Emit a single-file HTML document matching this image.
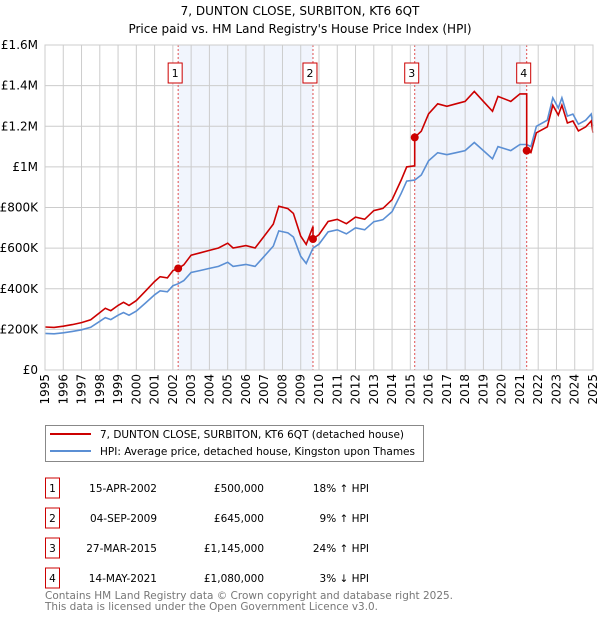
<!DOCTYPE html>
<html><head><meta charset="utf-8"><style>
body{margin:0;background:#fff;width:600px;height:620px;overflow:hidden;font-family:"DejaVu Sans","Liberation Sans",sans-serif;}
svg{position:absolute;left:0;top:0;font-family:"DejaVu Sans","Liberation Sans",sans-serif;}
</style></head><body>
<svg id="chart" width="600" height="620"></svg>
<script>
const hpiYears=[1995,1995.5,1996,1996.5,1997,1997.5,1998,1998.3,1998.6,1999,1999.3,1999.6,2000,2000.5,2001,2001.3,2001.7,2002,2002.3,2002.6,2003,2003.5,2004,2004.5,2005,2005.3,2006,2006.5,2007,2007.5,2007.8,2008.3,2008.6,2009,2009.3,2009.67,2010,2010.5,2011,2011.5,2012,2012.5,2013,2013.5,2014,2014.5,2014.8,2015.24,2015.6,2016,2016.5,2017,2017.5,2018,2018.5,2019,2019.5,2019.8,2020.5,2021,2021.37,2021.6,2021.9,2022.5,2022.8,2023.1,2023.3,2023.6,2023.9,2024.2,2024.6,2024.9,2025];
const hpiValues=[180,178,183,190,198,210,240,258,248,270,283,270,290,330,370,390,385,415,425,440,480,490,500,510,530,510,520,510,560,610,685,675,655,560,525,600,620,680,690,670,700,690,730,740,780,870,930,935,960,1030,1070,1060,1070,1080,1120,1080,1040,1100,1080,1110,1110,1100,1200,1230,1340,1290,1340,1250,1260,1210,1230,1260,1200];
const saleLabels=["1","2","3","4"];
const saleYears=[2002.29,2009.67,2015.24,2021.37];
const salePrices=[500,645,1145,1080];
const saleDates=["15-APR-2002","04-SEP-2009","27-MAR-2015","14-MAY-2021"];
const salePriceText=["£500,000","£645,000","£1,145,000","£1,080,000"];
const saleHpiText=["18% ↑ HPI","9% ↑ HPI","24% ↑ HPI","3% ↓ HPI"];
const yTicks=[0,200,400,600,800,1000,1200,1400,1600];
const yTickLabels=["£0","£200K","£400K","£600K","£800K","£1M","£1.2M","£1.4M","£1.6M"];
const xTicks=[];for(let y=1995;y<=2025;y++)xTicks.push(y);

const L=45,R=593,T=45,B=370;
const X=y=>L+(y-1995)/30*(R-L);
const Y=v=>B-v/1600*(B-T);
const svg=document.getElementById('chart');
const NS='http://www.w3.org/2000/svg';
function mk(tag,attrs,parent){const e=document.createElementNS(NS,tag);for(const k in attrs)e.setAttribute(k,attrs[k]);(parent||svg).appendChild(e);return e;}
function hpiAt(t){for(let i=1;i<hpiYears.length;i++){if(t<=hpiYears[i]){const f=(t-hpiYears[i-1])/(hpiYears[i]-hpiYears[i-1]);return hpiValues[i-1]+f*(hpiValues[i]-hpiValues[i-1]);}}return hpiValues[hpiValues.length-1];}

let e;
e=mk('text',{x:300,y:15,'text-anchor':'middle','font-size':12,fill:'#000'});e.textContent='7, DUNTON CLOSE, SURBITON, KT6 6QT';


e=mk('text',{x:300,y:33,'text-anchor':'middle','font-size':12,fill:'#000'});e.textContent="Price paid vs. HM Land Registry's House Price Index (HPI)";



for(let i=0;i<saleYears.length;i+=2){
 e=mk('rect',{x:X(saleYears[i]),y:T,width:X(saleYears[i+1])-X(saleYears[i]),height:B-T,fill:'#eef3fd',opacity:0.8});
 
 
}
xTicks.forEach(t=>{e=mk('line',{x1:X(t),x2:X(t),y1:T,y2:B,stroke:'#ccc','stroke-width':1});
 
 
 e=mk('text',{transform:`translate(${X(t)+4},${B+4}) rotate(-90)`,'text-anchor':'end','font-size':12,fill:'#000'});e.textContent=t;
 
 
});
yTicks.forEach((t,i)=>{e=mk('line',{x1:L,x2:R,y1:Y(t),y2:Y(t),stroke:'#ccc','stroke-width':1});
 
 
 e=mk('text',{x:L-7,y:Y(t)+4,'text-anchor':'end','font-size':12,fill:'#000'});e.textContent=yTickLabels[i];
 
 
});
saleYears.forEach((s,i)=>{
 e=mk('line',{x1:X(s),x2:X(s),y1:T,y2:B,stroke:'#e05050','stroke-width':1,'stroke-dasharray':'2,2'});
 
 
 e=mk('rect',{x:X(s)-10,y:63,width:14,height:20,fill:'#fff',stroke:'#c00','stroke-width':1});
 
 
 e=mk('text',{x:X(s)-3,y:77,'text-anchor':'middle','font-size':11,fill:'#000'});e.textContent=saleLabels[i];
 
 
});
let d=hpiYears.map((t,i)=>(i?'L':'M')+X(t).toFixed(1)+','+Y(hpiValues[i]).toFixed(1)).join('');
e=mk('path',{d:d,fill:'none',stroke:'#5b8fd4','stroke-width':1.6});


const factor0=salePrices[0]/hpiAt(saleYears[0]);
let pts=[];
const allT=hpiYears.concat(saleYears).sort((a,b)=>a-b);
function fac(t){let f=factor0;for(let i=0;i<saleYears.length;i++){if(t>=saleYears[i])f=salePrices[i]/hpiAt(saleYears[i]);}return f;}
allT.forEach(t=>{
 const idx=saleYears.indexOf(t);
 if(idx>0){pts.push([t,hpiAt(t)*fac(t-0.001)]);}
 pts.push([t,hpiAt(t)*fac(t)]);
});
d=pts.map((p,i)=>(i?'L':'M')+X(p[0]).toFixed(1)+','+Y(p[1]).toFixed(1)).join('');
e=mk('path',{d:d,fill:'none',stroke:'#cc0000','stroke-width':1.6});


saleYears.forEach((s,i)=>{e=mk('circle',{cx:X(s),cy:Y(salePrices[i]),r:4,fill:'#cc0000'});
 
 
});
mk('rect',{x:L,y:T,width:R-L,height:B-T,fill:'none',stroke:'#ccc'});

e=mk('rect',{x:45.5,y:425.5,width:378,height:36,fill:'#fff',stroke:'#888'});


mk('line',{x1:50,x2:91,y1:434,y2:434,stroke:'#cc0000','stroke-width':2});
e=mk('text',{x:100,y:438,'font-size':10.5,fill:'#000',textLength:304,lengthAdjust:'spacingAndGlyphs'});e.textContent='7, DUNTON CLOSE, SURBITON, KT6 6QT (detached house)';


mk('line',{x1:50,x2:91,y1:451,y2:451,stroke:'#5b8fd4','stroke-width':2});
e=mk('text',{x:100,y:455,'font-size':10.5,fill:'#000',textLength:315,lengthAdjust:'spacingAndGlyphs'});e.textContent='HPI: Average price, detached house, Kingston upon Thames';



saleYears.forEach((s,i)=>{
 const cy=488+i*30;
 e=mk('rect',{x:45.5,y:cy-10,width:14,height:20,fill:'#fff',stroke:'#c00'});
 
 
 const cells=[[52.5,'middle',saleLabels[i]],[157,'end',saleDates[i]],[264,'end',salePriceText[i]],[369,'end',saleHpiText[i]]];
 cells.forEach(c=>{e=mk('text',{x:c[0],y:cy+4,'text-anchor':c[1],'font-size':10.5,fill:'#000'});e.textContent=c[2];
  
  });
});
e=mk('text',{x:45,y:599,'font-size':11,fill:'#777',textLength:408,lengthAdjust:'spacingAndGlyphs'});e.textContent='Contains HM Land Registry data © Crown copyright and database right 2025.';


e=mk('text',{x:45,y:610,'font-size':11,fill:'#777',textLength:333,lengthAdjust:'spacingAndGlyphs'});e.textContent='This data is licensed under the Open Government Licence v3.0.';


</script>
</body></html>
